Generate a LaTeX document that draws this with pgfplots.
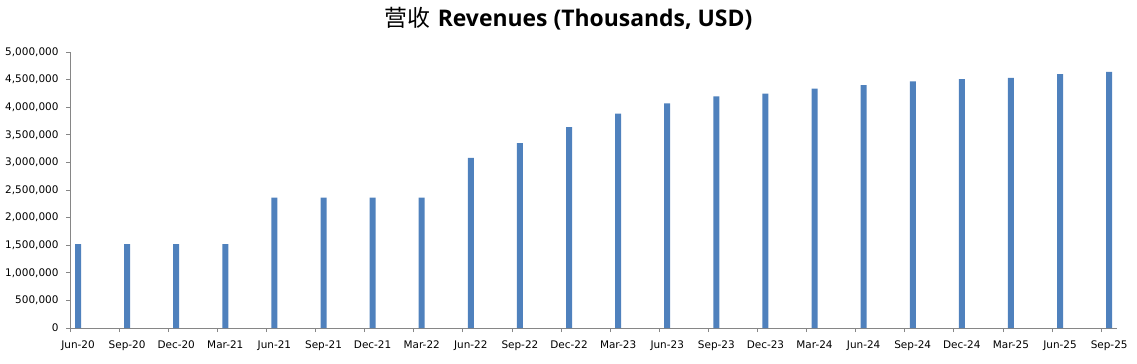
\documentclass[border=0pt]{standalone}
\usepackage{fontspec}
\setmainfont{DejaVu Sans}
\newfontfamily\titlefont{Open Sans}
\newfontfamily\cjk{Noto Sans CJK SC}
\usepackage{pgfplots}
\pgfplotsset{compat=1.18}
\definecolor{barblue}{HTML}{4F81BD}
\definecolor{axisgray}{HTML}{868686}
\begin{document}
\begin{tikzpicture}[x=1bp,y=1bp]
\path[use as bounding box] (0,0) rectangle (1137,363);
\begin{axis}[
  at={(70bp,35bp)}, anchor=south west,
  scale only axis, width=1047bp, height=276bp,
  xmin=-0.163, xmax=21.16, ymin=0, ymax=5000000,
  axis x line*=bottom, axis y line*=left,
  axis line style={axisgray, line width=0.75bp, -},
  tick style={axisgray, line width=0.75bp},
  major tick length=4bp, tick align=outside,
  ytick={0,500000,1000000,1500000,2000000,2500000,3000000,3500000,4000000,4500000,5000000},
  scaled y ticks=false,
  yticklabel style={xshift=-4bp, /pgf/number format/.cd, fixed, 1000 sep={,}, assume math mode=true},
  xtick={-0.163,0.837,1.837,2.837,3.837,4.837,5.837,6.837,7.837,8.837,9.837,10.837,11.837,12.837,13.837,14.837,15.837,16.837,17.837,18.837,19.837,20.837},
  xticklabels={Jun-20,Sep-20,Dec-20,Mar-21,Jun-21,Sep-21,Dec-21,Mar-22,Jun-22,Sep-22,Dec-22,Mar-23,Jun-23,Sep-23,Dec-23,Mar-24,Jun-24,Sep-24,Dec-24,Mar-25,Jun-25,Sep-25},
  xticklabel style={xshift=8bp, yshift=-5bp},
  tick label style={font=\fontsize{10.5}{12}\selectfont, text=black},
  ybar, bar width=6bp,
]
\addplot[fill=barblue, draw=none] coordinates {
(0,1520000) (1,1520000) (2,1520000) (3,1520000)
(4,2360000) (5,2360000) (6,2360000) (7,2360000)
(8,3080000) (9,3350000) (10,3640000) (11,3885000)
(12,4070000) (13,4195000) (14,4245000) (15,4335000)
(16,4400000) (17,4470000) (18,4510000) (19,4530000)
(20,4600000) (21,4640000)
};
\end{axis}
\node at (568.5,344) {\fontsize{23}{28}\selectfont{\cjk 营收} {\titlefont\bfseries Revenues (Thousands, USD)}};
\end{tikzpicture}
\end{document}
